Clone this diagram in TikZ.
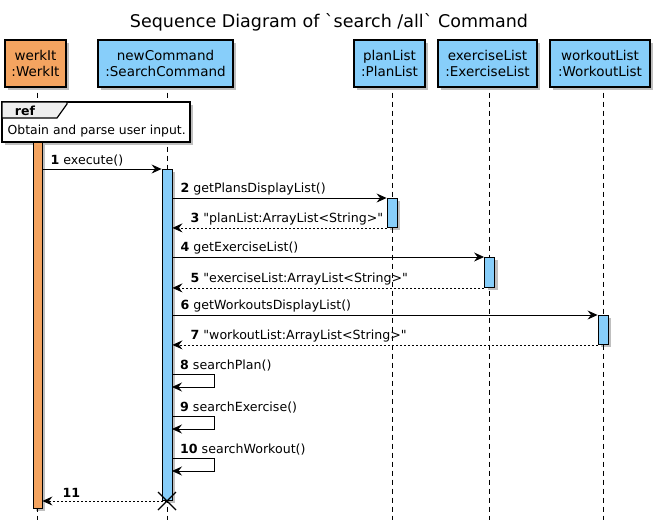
\documentclass[tikz,border=0pt]{standalone}
\usepackage{fontspec}
\setmainfont{DejaVu Sans}[Ligatures=TeXOff]
\usetikzlibrary{arrows.meta,shadows}
\definecolor{orng}{HTML}{F4A460}
\definecolor{sky}{HTML}{87CEFA}
\definecolor{tabgray}{HTML}{EEEEEE}
\tikzset{
  shad/.style={drop shadow={shadow xshift=3pt,shadow yshift=-3pt,opacity=0.25,fill=black}},
  part/.style={draw, line width=1.1pt, fill=sky, align=center, inner sep=0pt, shad,
    font=\fontsize{13.5}{16}\selectfont, minimum height=47pt},
  lifeline/.style={dash pattern=on 5pt off 4pt, line width=0.8pt},
  act/.style={draw, line width=0.9pt, fill=sky, inner sep=0pt, minimum width=10pt, shad},
  msg/.style={-{Stealth[length=10pt,width=9pt,inset=3.5pt]}, line width=0.8pt},
  ret/.style={msg, dash pattern=on 2pt off 2pt},
  lbl/.style={anchor=south west, inner sep=0pt, font=\fontsize{12.6}{15}\selectfont},
}
\begin{document}
\begin{tikzpicture}[x=1pt,y=-1pt]
\useasboundingbox (0,0) rectangle (662,525);
\node[font=\fontsize{17.5}{20}\selectfont] (title) at (329,22) {Sequence Diagram of `search /all` Command};
% participants
\node[part, fill=orng, minimum width=61pt] (p1) at (35.5,63.5) {werkIt\\:WerkIt};
\node[part, minimum width=135pt] (p2) at (165.5,63.5) {newCommand\\:SearchCommand};
\node[part, minimum width=71pt] (p3) at (389.5,63.5) {planList\\:PlanList};
\node[part, minimum width=99pt] (p4) at (487.5,63.5) {exerciseList\\:ExerciseList};
\node[part, minimum width=100pt] (p5) at (600,63.5) {workoutList\\:WorkoutList};
% lifelines
\draw[lifeline] ([yshift=-5pt]p1.south -| 37.5,0) -- (37.5,520);
\draw[lifeline] ([yshift=-5pt]p2.south -| 167,0) -- (167,520);
\draw[lifeline] ([yshift=-5pt]p3.south -| 392,0) -- (392,520);
\draw[lifeline] ([yshift=-5pt]p4.south -| 489.5,0) -- (489.5,520);
\draw[lifeline] ([yshift=-5pt]p5.south -| 603,0) -- (603,520);
% ref frame
\filldraw[fill=white, line width=1.2pt, shad] (2,102) rectangle (190,142);
\filldraw[fill=tabgray, line width=1.2pt] (2,102) -- (67,102) -- (67,104) -- (57,118) -- (2,118) -- cycle;
\node[font=\bfseries\fontsize{12.5}{14}\selectfont, inner sep=0pt] (reftag) at (25,110.5) {ref};
\node[font=\fontsize{12.4}{14}\selectfont, anchor=west, inner sep=0pt] (reftext) at (7.5,131) {Obtain and parse user input.};
% activations
\node[act, fill=orng, minimum width=9pt, minimum height=366pt, anchor=north] (a1) at (37.5,142) {};
\node[act, minimum height=331pt, anchor=north] (a2) at (167,169) {};
\node[act, minimum height=29pt, anchor=north] (a3) at (392,198) {};
\node[act, minimum height=30pt, anchor=north] (a4) at (489.5,257) {};
\node[act, minimum height=29pt, anchor=north] (a5) at (603,315) {};
% messages
\draw[msg] (a1.east |- a2.north) -- (a2.north west);
\node[lbl] (l1) at ([xshift=8pt,yshift=3pt]a1.east |- a2.north) {\textbf{1} execute()};
\draw[msg] (a2.east |- a3.north) -- (a3.north west);
\node[lbl] (l2) at ([xshift=8pt,yshift=3pt]a2.east |- a3.north) {\textbf{2} getPlansDisplayList()};
\draw[ret] (a3.south west) -- (a2.east |- a3.south);
\node[lbl] (l3) at ([xshift=18pt,yshift=3pt]a2.east |- a3.south) {\textbf{3} "planList:ArrayList<String>"};
\draw[msg] (a2.east |- a4.north) -- (a4.north west);
\node[lbl] (l4) at ([xshift=8pt,yshift=3pt]a2.east |- a4.north) {\textbf{4} getExerciseList()};
\draw[ret] (a4.south west) -- (a2.east |- a4.south);
\node[lbl] (l5) at ([xshift=18pt,yshift=3pt]a2.east |- a4.south) {\textbf{5} "exerciseList:ArrayList<String>"};
\draw[msg] (a2.east |- a5.north) -- (a5.north west);
\node[lbl] (l6) at ([xshift=8pt,yshift=3pt]a2.east |- a5.north) {\textbf{6} getWorkoutsDisplayList()};
\draw[ret] (a5.south west) -- (a2.east |- a5.south);
\node[lbl] (l7) at ([xshift=18pt,yshift=3pt]a2.east |- a5.south) {\textbf{7} "workoutList:ArrayList<String>"};
% self messages
\coordinate (s8) at (172,374);
\coordinate (s9) at (172,416);
\coordinate (s10) at (172,458);
\draw[msg] (s8) -- ++(42,0) -- ++(0,13) -- ++(-42,0);
\node[lbl] (l8) at ([xshift=8pt,yshift=3pt]s8) {\textbf{8} searchPlan()};
\draw[msg] (s9) -- ++(42,0) -- ++(0,13) -- ++(-42,0);
\node[lbl] (l9) at ([xshift=8pt,yshift=3pt]s9) {\textbf{9} searchExercise()};
\draw[msg] (s10) -- ++(42,0) -- ++(0,13) -- ++(-42,0);
\node[lbl] (l10) at ([xshift=8pt,yshift=3pt]s10) {\textbf{10} searchWorkout()};
% return 11 and destroy
\coordinate (x11) at (167,501);
\draw[ret] (x11) -- (a1.east |- x11);
\node[lbl] (l11) at ([xshift=20pt,yshift=3pt]a1.east |- x11) {\textbf{11}};
\draw[line width=1.3pt] ([shift={(-9pt,9pt)}]x11) -- ([shift={(9pt,-9pt)}]x11);
\draw[line width=1.3pt] ([shift={(-9pt,-9pt)}]x11) -- ([shift={(9pt,9pt)}]x11);
\end{tikzpicture}
\end{document}
